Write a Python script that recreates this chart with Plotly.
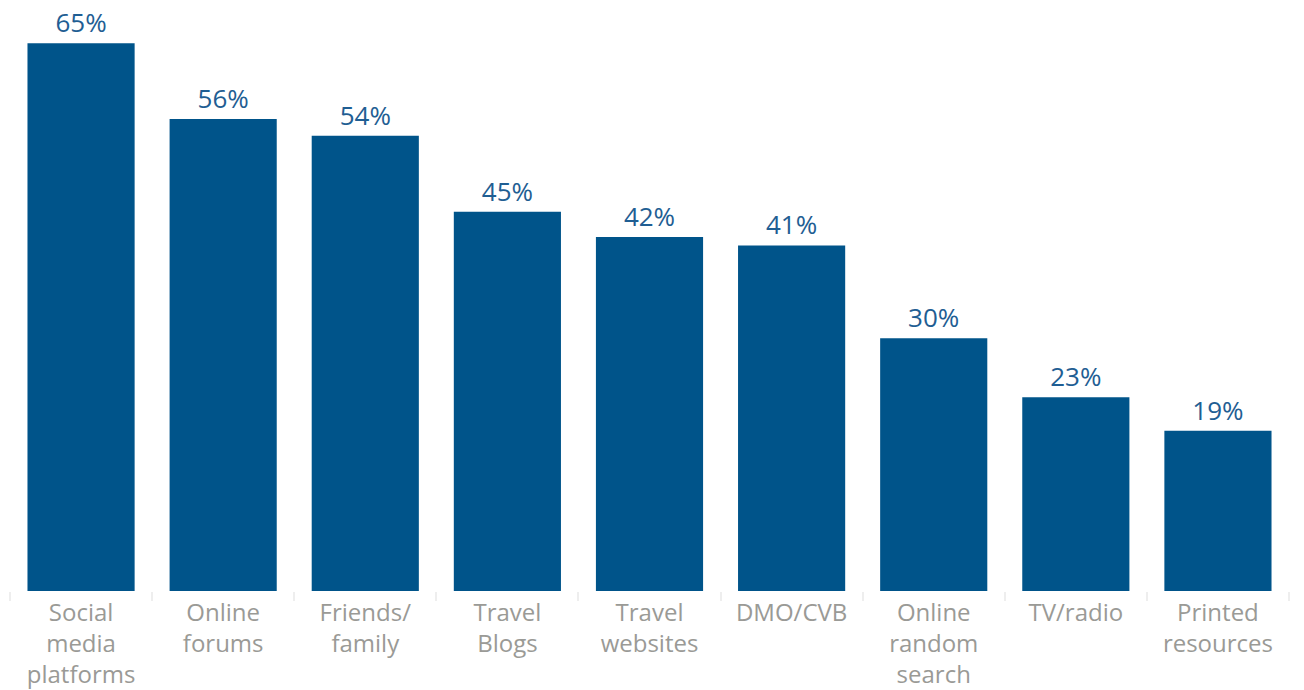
import plotly.graph_objects as go

categories = ["Social<br>media<br>platforms", "Online<br>forums", "Friends/<br>family",
              "Travel<br>Blogs", "Travel<br>websites", "DMO/CVB", "Online<br>random<br>search",
              "TV/radio", "Printed<br>resources"]
values = [65, 56, 54, 45, 42, 41, 30, 23, 19]
labels = [f"{v}%" for v in values]

bar_color = "#00548A"
font_family = "Open Sans"

fig = go.Figure(go.Bar(
    x=categories, y=values, text=labels, textposition="outside",
    marker=dict(color=bar_color, line=dict(width=0)),
    textfont=dict(color="#1F5E93", size=26, family=font_family),
    cliponaxis=False,
))

fig.update_layout(
    width=1304, height=690,
    margin=dict(l=10, r=15, t=1, b=99, autoexpand=False),
    paper_bgcolor="white", plot_bgcolor="white",
    bargap=0.246,
    showlegend=False,
    font=dict(family=font_family),
    xaxis=dict(
        type="category", tickson="boundaries", ticks="outside", ticklen=9,
        tickcolor="#EEEEEE", tickwidth=2, showline=False, showgrid=False,
        tickfont=dict(size=24, color="#9A9A96", family=font_family),
        tickangle=0, automargin=False, ticklabelstandoff=5,
    ),
    yaxis=dict(range=[0, 70], visible=False, showgrid=False, zeroline=False,
               automargin=False),
)

fig.write_html("out.html",
               config={"displayModeBar": False},
               post_script="document.body.style.margin='0';document.body.style.overflow='hidden';")
